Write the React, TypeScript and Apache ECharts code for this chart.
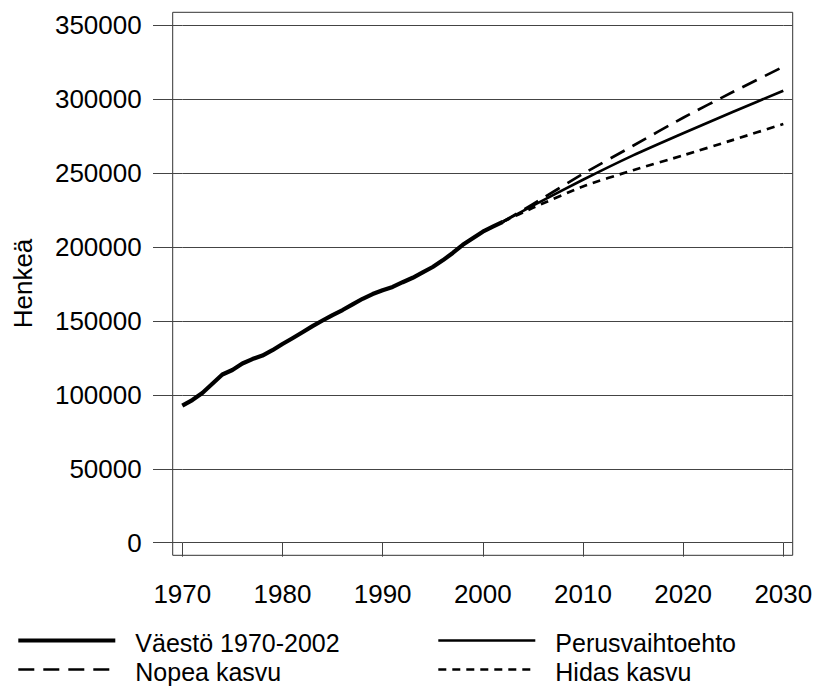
import React, { useEffect, useRef } from "react";
import * as echarts from "echarts";

const histYears = [1970, 1971, 1972, 1973, 1974, 1975, 1976, 1977, 1978, 1979, 1980, 1981, 1982, 1983, 1984, 1985, 1986, 1987, 1988, 1989, 1990, 1991, 1992, 1993, 1994, 1995, 1996, 1997, 1998, 1999, 2000, 2001, 2002];
const histPop = [92700, 96500, 101300, 107500, 113800, 116800, 121200, 124200, 126600, 130200, 134400, 138300, 142400, 146500, 150300, 154000, 157400, 161200, 165000, 168200, 170800, 173000, 176200, 179200, 182800, 186500, 191000, 196000, 201500, 206000, 210400, 213800, 217100];

const projYears = [2002, 2005, 2010, 2015, 2020, 2025, 2030];
const perusPop = [217100, 228000, 245500, 262000, 277000, 291500, 305800];
const nopeaPop = [217100, 229000, 249500, 268500, 287500, 305000, 322000];
const hidasPop = [217100, 226500, 241000, 252000, 262000, 272500, 283200];

const yTicks = { min: 0, max: 350000, interval: 50000 };
const xTicks = { min: 1970, max: 2030, interval: 10 };

const yAxisTitle = "Henkeä";
const names = ["Väestö 1970-2002", "Perusvaihtoehto", "Nopea kasvu", "Hidas kasvu"];

const FONT = "'Liberation Sans', Arial, Helvetica, sans-serif";

const zip = (xs: number[], ys: number[]) => xs.map((x, i) => [x, ys[i]]);

const styles: Record<string, { width: number; dash: number[] | null }> = {
  [names[0]]: { width: 4.2, dash: null },
  [names[1]]: { width: 2.7, dash: null },
  [names[2]]: { width: 2.7, dash: [16, 9] },
  [names[3]]: { width: 2.7, dash: [8, 6] },
};

export default function App() {
  const ref = useRef<HTMLDivElement>(null);
  useEffect(() => {
    if (!ref.current) return;
    const chart = echarts.init(ref.current, undefined, { renderer: "svg" });
    const gridColor = "#444";

    const legendSlots = [
      { name: names[0], x: 18.3, y: 640.5 },
      { name: names[2], x: 18.3, y: 669.5 },
      { name: names[1], x: 438.3, y: 640.5 },
      { name: names[3], x: 438.3, y: 669.5 },
    ];
    const legendGraphics: any[] = [];
    legendSlots.forEach((s) => {
      const st = styles[s.name];
      legendGraphics.push({
        type: "line",
        shape: { x1: s.x, y1: s.y, x2: s.x + 97, y2: s.y },
        style: { stroke: "#000", lineWidth: st.width, lineDash: st.dash || undefined },
        silent: true,
      });
      legendGraphics.push({
        type: "text",
        x: s.x + 117,
        y: s.y + 2.4,
        style: { text: s.name, fill: "#000", fontSize: 25, lineHeight: 25, fontFamily: FONT, textAlign: "left", textVerticalAlign: "middle" },
        silent: true,
      });
    });

    const lineSeries = (name: string, xs: number[], ys: number[], z: number, smooth: number | boolean) => ({
      name,
      type: "line",
      symbol: "none",
      smooth,
      z,
      data: zip(xs, ys),
      lineStyle: { color: "#000", width: styles[name].width, type: styles[name].dash || "solid", join: "round" },
      itemStyle: { color: "#000" },
    });

    chart.setOption({
      animation: false,
      backgroundColor: "#fff",
      grid: { left: 182.3, top: 25.3, width: 601, height: 517.4, containLabel: false },
      xAxis: {
        type: "value",
        ...xTicks,
        offset: 12.6,
        axisLine: { show: false },
        axisTick: { show: true, length: 14, lineStyle: { color: gridColor, width: 1 } },
        axisLabel: { margin: 26, color: "#000", fontSize: 26, fontFamily: FONT, formatter: (v: number) => String(v) },
        splitLine: { show: false },
      },
      yAxis: [
        {
          type: "value",
          ...yTicks,
          position: "left",
          axisLine: { show: false },
          axisTick: { show: true, length: 29.3, lineStyle: { color: gridColor, width: 1 } },
          axisLabel: { margin: 40.6, color: "#000", fontSize: 26, fontFamily: FONT, formatter: (v: number) => String(v) },
          splitLine: { show: true, lineStyle: { color: gridColor, width: 1 } },
        },
        {
          type: "value",
          ...yTicks,
          position: "right",
          axisLine: { show: false },
          axisTick: { show: true, length: 9.4, lineStyle: { color: gridColor, width: 1 } },
          axisLabel: { show: false },
          splitLine: { show: false },
        },
      ],
      graphic: [
        {
          type: "rect",
          shape: { x: 172.7, y: 12.3, width: 620, height: 543 },
          style: { fill: "none", stroke: "#333", lineWidth: 1 },
          silent: true,
        },
        {
          type: "text",
          x: 22.5,
          y: 283.5,
          rotation: Math.PI / 2,
          style: { text: yAxisTitle, fill: "#000", fontSize: 26, fontFamily: FONT, textAlign: "center", textVerticalAlign: "middle" },
          silent: true,
        },
        ...legendGraphics,
      ],
      series: [
        lineSeries(names[1], projYears, perusPop, 3, 0.2),
        lineSeries(names[2], projYears, nopeaPop, 3, 0.2),
        lineSeries(names[3], projYears, hidasPop, 3, 0.2),
        lineSeries(names[0], histYears, histPop, 4, false),
      ],
    });
    return () => chart.dispose();
  }, []);
  return <div ref={ref} style={{ position: "absolute", left: 0, top: 0, width: 816, height: 686 }} />;
}
